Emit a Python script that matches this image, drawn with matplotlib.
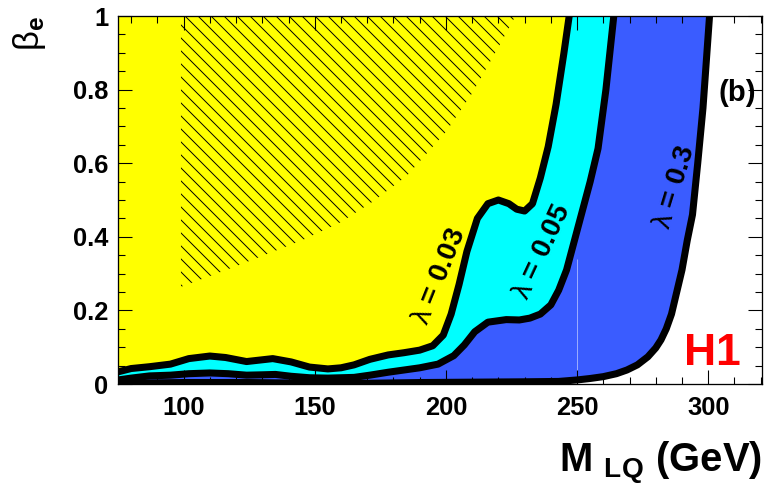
import matplotlib.pyplot as plt
from matplotlib.ticker import MultipleLocator

# exclusion contours: leptoquark mass (GeV) vs beta_e
mass_l003 = [75, 80, 87, 95, 102, 110, 116, 124, 129, 134, 141, 148, 155, 160, 165, 171, 178,
             184, 190, 195, 199, 202, 205, 208, 212, 216, 220, 224, 227, 230, 233, 236, 239,
             242, 245, 247]
beta_l003 = [0.033, 0.042, 0.047, 0.054, 0.069, 0.076, 0.072, 0.061, 0.065, 0.069, 0.060, 0.046,
             0.041, 0.044, 0.052, 0.067, 0.079, 0.085, 0.092, 0.104, 0.133, 0.19, 0.27, 0.36,
             0.45, 0.49, 0.50, 0.49, 0.475, 0.47, 0.49, 0.56, 0.645, 0.76, 0.90, 1.0]

mass_l005 = [75, 80, 87, 95, 102, 110, 117, 124, 130, 135, 141, 148, 155, 165, 171, 178, 184,
             190, 197, 203, 207, 211, 216, 223, 228, 232, 236, 240, 243, 246, 249, 252, 255,
             258, 261, 264]
beta_l005 = [0.011, 0.016, 0.022, 0.024, 0.028, 0.030, 0.028, 0.024, 0.025, 0.026, 0.021, 0.017,
             0.016, 0.018, 0.024, 0.032, 0.038, 0.044, 0.054, 0.077, 0.106, 0.142, 0.168, 0.175,
             0.174, 0.179, 0.19, 0.215, 0.255, 0.31, 0.39, 0.47, 0.55, 0.64, 0.80, 1.0]

mass_l03 = [75, 100, 125, 150, 170, 190, 210, 230, 243, 250, 255, 260, 265, 269, 273, 277, 280,
            282, 284, 286, 288, 290, 292, 294, 296, 298, 300, 300.5]
beta_l03 = [0.002, 0.004, 0.004, 0.002, 0.002, 0.004, 0.005, 0.006, 0.007, 0.011, 0.015, 0.02,
            0.028, 0.038, 0.052, 0.074, 0.098, 0.12, 0.15, 0.19, 0.25, 0.31, 0.39, 0.46, 0.60,
            0.75, 0.95, 1.0]

# hatched region (lower-right boundary)
mass_hatch = [99, 120, 145, 160, 172, 185, 200, 210, 220, 226.5]
beta_hatch = [0.264, 0.32, 0.39, 0.44, 0.495, 0.565, 0.685, 0.79, 0.915, 1.0]

# faint seam in the blue band
seam_mass = 250
seam_beta = (0.01, 0.34)

labels = ['0.03', '0.05', '0.3']
label_pos = [(197.5, 0.293, 68), (236.7, 0.36, 65), (287.2, 0.535, 73)]

plt.rcParams['font.family'] = ['Liberation Sans', 'DejaVu Sans']
plt.rcParams['mathtext.fontset'] = 'custom'
plt.rcParams['mathtext.rm'] = 'Liberation Sans'
plt.rcParams['mathtext.bf'] = 'Liberation Sans:bold'
plt.rcParams['mathtext.it'] = 'Liberation Sans:italic'
plt.rcParams['hatch.linewidth'] = 0.9

dpi = 78
fig = plt.figure(figsize=(766 / dpi, 487 / dpi), dpi=dpi)
ax = fig.add_axes([118 / 766, 1 - 384 / 487, 644 / 766, 368 / 487])

x0 = 75
for m, b, col in [(mass_l03, beta_l03, '#3a5cff'),
                  (mass_l005, beta_l005, '#00ffff'),
                  (mass_l003, beta_l003, '#ffff00')]:
    ax.fill(m + [x0], b + [1.0], color=col, lw=0, zorder=1)

ax.fill(mass_hatch + [mass_hatch[0]], beta_hatch + [1.0], facecolor='none',
        edgecolor='black', hatch='\\\\', lw=0, zorder=1.5)
ax.vlines(seam_mass, *seam_beta, color='#a8b8ff', lw=0.8, zorder=1.2)

for m, b in [(mass_l003, beta_l003), (mass_l005, beta_l005), (mass_l03, beta_l03)]:
    ax.plot(m, b, color='black', lw=6.5, solid_joinstyle='round', solid_capstyle='butt', zorder=2)

for lab, (x, y, rot) in zip(labels, label_pos):
    ax.text(x, y, r'$\mathrm{λ}$ = ' + lab, rotation=rot, fontsize=26, fontweight='bold',
            ha='center', va='center', rotation_mode='anchor', zorder=3)

ax.text(310.9, 0.79, '(b)', fontsize=27, fontweight='bold', ha='center', va='center')
ax.text(301.7, 0.084, 'H1', fontsize=41, fontweight='bold', color='#ff0000',
        ha='center', va='center')

ax.set_xlim(75, 320.5)
ax.set_ylim(0, 1)
ax.xaxis.set_major_locator(MultipleLocator(50))
ax.xaxis.set_minor_locator(MultipleLocator(10))
ax.yaxis.set_major_locator(MultipleLocator(0.2))
ax.yaxis.set_minor_locator(MultipleLocator(0.05))
ax.set_yticks([0, 0.2, 0.4, 0.6, 0.8, 1.0], ['0', '0.2', '0.4', '0.6', '0.8', '1'])
ax.tick_params(which='both', direction='in', top=True, right=True, width=1.0)
ax.tick_params(which='major', length=13, labelsize=23.5, pad=11)
ax.tick_params(axis='y', which='major', pad=9)
ax.tick_params(which='minor', length=6.5)
for t in ax.get_xticklabels() + ax.get_yticklabels():
    t.set_fontweight('bold')
for s in ax.spines.values():
    s.set_linewidth(1.2)
    s.set_zorder(4)

fig.text(762 / 766, 1 - 472 / 487, r'M $_{\mathbf{LQ}}$ (GeV)', fontsize=37, fontweight='bold',
         ha='right', va='baseline')
fig.text(30 / 766, 1 - 16 / 487, r'$\mathrm{β}_{\mathbf{e}}$', fontsize=32, rotation=90,
         ha='center', va='top')

fig.savefig('out.png', dpi=dpi)
